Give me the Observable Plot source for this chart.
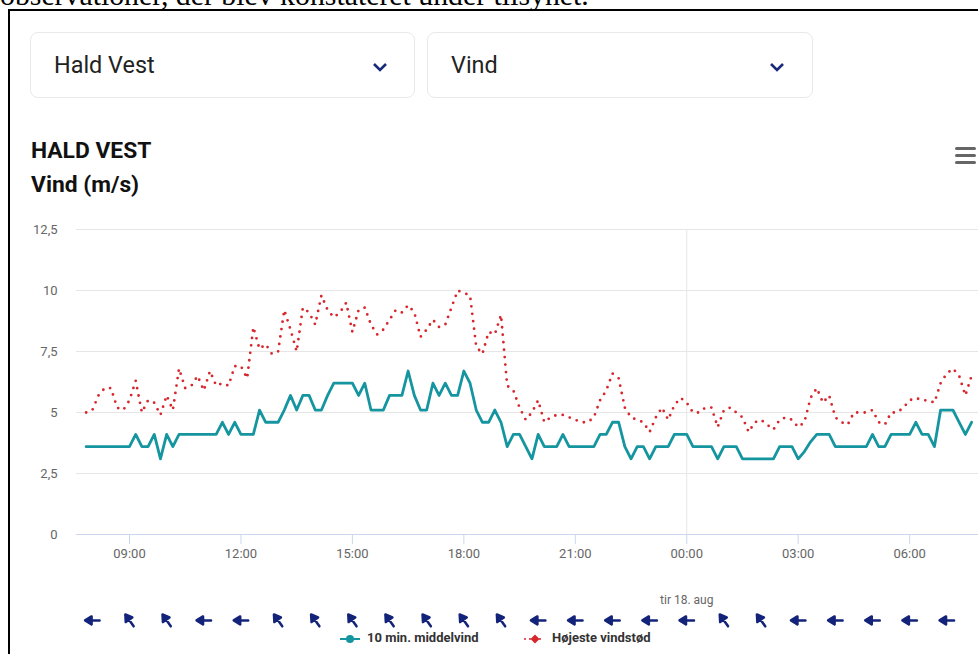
<!DOCTYPE html>
<html><head><meta charset="utf-8">
<script src="https://cdn.jsdelivr.net/npm/d3@7"></script>
<script src="https://cdn.jsdelivr.net/npm/@observablehq/plot@0.6"></script>
<style>
html,body{margin:0;padding:0;background:#fff;}
#page{position:relative;width:978px;height:654px;overflow:hidden;font-family:Roboto,sans-serif;background:#fff}
.intro{position:absolute;left:0px;top:-20px;font-family:"Liberation Serif",serif;font-size:29.8px;line-height:29px;color:#000;white-space:nowrap}
.frame{position:absolute;left:8px;top:9px;width:1000px;height:700px;border:2px solid #000;box-sizing:border-box}
.dd{position:absolute;top:32px;height:66px;border:1px solid #e9e9e9;border-radius:8px;box-sizing:border-box;background:#fff}
.dd span{position:absolute;left:23px;top:18px;font-size:23.4px;color:#222}
.dd svg{position:absolute;top:28px}
.title{position:absolute;left:31px;font-weight:700;font-size:22.8px;color:#111;line-height:1}
.burger{position:absolute;left:955px;width:21px;height:3px;border-radius:2px;background:#666}
#chart{position:absolute;left:0;top:200px}
.legend{position:absolute;top:630px;font-size:13px;font-weight:700;color:#333;white-space:nowrap;line-height:16px}
.legend svg{vertical-align:middle;margin-right:6px}
</style>
</head><body>
<div id="page">
  <div class="intro">observationer, der blev konstateret under tilsynet.</div>
  <div class="frame"></div>
  <div class="dd" style="left:30px;width:385px"><span>Hald Vest</span>
    <svg style="left:341px" width="16" height="12"><polyline points="2,3 8,9 14,3" fill="none" stroke="#1a2a7a" stroke-width="2.6"/></svg></div>
  <div class="dd" style="left:427px;width:386px"><span>Vind</span>
    <svg style="left:341px" width="16" height="12"><polyline points="2,3 8,9 14,3" fill="none" stroke="#1a2a7a" stroke-width="2.6"/></svg></div>
  <div class="title" style="top:140px">HALD VEST</div>
  <div class="title" style="top:174px">Vind (m/s)</div>
  <div class="burger" style="top:147px"></div>
  <div class="burger" style="top:154px"></div>
  <div class="burger" style="top:161px"></div>
  <div id="chart"></div>
  <div class="legend" style="left:339px"><svg width="22" height="12"><line x1="1" y1="6" x2="21" y2="6" stroke="#1595a0" stroke-width="2"/><circle cx="11" cy="6" r="4" fill="#1595a0"/></svg>10 min. middelvind</div>
  <div class="legend" style="left:524px"><svg width="22" height="12"><line x1="1" y1="6" x2="21" y2="6" stroke="#d7262c" stroke-width="2" stroke-dasharray="0,5" stroke-linecap="round"/><path d="M11,1.5 L15.5,6 L11,10.5 L6.5,6Z" fill="#d7262c"/></svg>Højeste vindstød</div>
</div>
<script>
// --- data ---
const seriesStart = "2020-08-17T07:50:00Z"; // first 10-min observation
const stepMinutes = 10;
const meanWind = [
  3.6,3.6,3.6,3.6,3.6,3.6,3.6,3.6,4.1,3.6,3.6,4.1,
  3.1,4.1,3.6,4.1,4.1,4.1,4.1,4.1,4.1,4.1,4.6,4.1,
  4.6,4.1,4.1,4.1,5.1,4.6,4.6,4.6,5.1,5.7,5.1,5.7,
  5.7,5.1,5.1,5.7,6.2,6.2,6.2,6.2,5.7,6.2,5.1,5.1,
  5.1,5.7,5.7,5.7,6.7,5.7,5.1,5.1,6.2,5.7,6.2,5.7,
  5.7,6.7,6.2,5.1,4.6,4.6,5.1,4.6,3.6,4.1,4.1,3.6,
  3.1,4.1,3.6,3.6,3.6,4.1,3.6,3.6,3.6,3.6,3.6,4.1,
  4.1,4.6,4.6,3.6,3.1,3.6,3.6,3.1,3.6,3.6,3.6,4.1,
  4.1,4.1,3.6,3.6,3.6,3.6,3.1,3.6,3.6,3.6,3.1,3.1,
  3.1,3.1,3.1,3.1,3.6,3.6,3.6,3.1,3.4,3.8,4.1,4.1,
  4.1,3.6,3.6,3.6,3.6,3.6,3.6,4.1,3.6,3.6,4.1,4.1,
  4.1,4.1,4.6,4.1,4.1,3.6,5.1,5.1,5.1,4.6,4.1,4.6
];
const gustWind = [
  5.0,5.1,5.7,6.0,6.0,5.2,5.1,5.5,6.3,5.0,5.5,5.4,
  4.9,5.7,5.1,6.8,6.0,6.1,6.5,5.9,6.7,6.1,6.2,6.1,
  6.9,6.9,6.4,8.5,7.6,7.8,7.4,7.5,9.2,8.4,7.5,9.3,
  9.1,8.6,9.8,9.2,8.9,9.1,9.5,8.3,9.2,9.3,8.6,8.2,
  8.4,8.8,9.2,9.1,9.4,9.1,8.1,8.4,8.8,8.5,8.6,9.3,
  10.0,9.9,9.8,7.7,7.4,8.3,8.2,9.0,6.1,5.9,5.2,4.7,
  5.0,5.5,4.6,4.8,4.9,4.9,4.8,4.7,4.6,4.6,4.8,5.5,
  5.9,6.6,6.4,5.2,4.8,4.7,4.6,4.2,4.8,5.2,4.7,5.3,
  5.6,5.4,5.0,5.0,5.2,5.2,4.4,5.1,5.2,5.0,4.8,4.2,
  4.6,4.7,4.5,4.3,4.7,4.8,4.7,4.4,4.6,5.6,6.0,5.4,
  5.7,4.8,4.6,4.5,5.0,5.0,5.0,5.1,4.6,4.5,5.0,5.0,
  5.2,5.5,5.6,5.5,5.5,5.4,6.2,6.6,6.8,6.5,5.7,6.5
];
// hourly wind direction (degrees the wind comes FROM), 08:00 .. 07:00
const dirStart = "2020-08-17T08:00:00Z";
const windFrom = [90,145,145,90,90,145,145,145,145,145,145,145,90,90,90,90,90,145,145,90,90,90,90,90];
const xTickLabels = ["09:00","12:00","15:00","18:00","21:00","00:00","03:00","06:00"];
const xTickTimes = ["2020-08-17T09:00Z","2020-08-17T12:00Z","2020-08-17T15:00Z","2020-08-17T18:00Z","2020-08-17T21:00Z","2020-08-18T00:00Z","2020-08-18T03:00Z","2020-08-18T06:00Z"];
const yTicks = [0,2.5,5,7.5,10,12.5];
const dayLabel = {time: "2020-08-18T00:00Z", text: "tir 18. aug"};
const seriesNames = ["10 min. middelvind","Højeste vindstød"];

// --- build tables ---
const t0 = new Date(seriesStart).getTime();
const rows = meanWind.map((m, i) => ({t: new Date(t0 + i*stepMinutes*60000), mean: m, gust: gustWind[i]}));
const d0 = new Date(dirStart).getTime();
const arrows = windFrom.map((d, i) => ({t: new Date(d0 + i*3600000), rot: (d + 180) % 360}));
const ticks = xTickTimes.map((s, i) => ({t: new Date(s), label: xTickLabels[i]}));
const xDomain = [new Date("2020-08-17T07:34:24Z"), new Date("2020-08-18T07:51:11Z")];
const fmtY = d => String(d).replace(".", ",");

// filled-head arrow shape
const filledArrow = {
  draw(context, l) {
    const head = 6.5, half = 4;
    context.moveTo(0, 0);
    context.lineTo(0, -l + head - 1);
    context.moveTo(0, -l);
    context.lineTo(-half, -l + head);
    context.lineTo(half, -l + head);
    context.closePath();
  }
};

function build(useCustom) {
  const arrowMark = useCustom
    ? Plot.vector(arrows, {x: "t", y: -3.52, rotate: "rot", length: 14.5, anchor: "middle", shape: filledArrow, stroke: "#14237a", fill: "#14237a", strokeWidth: 2.5})
    : Plot.vector(arrows, {x: "t", y: -3.52, rotate: "rot", length: 13, anchor: "middle", stroke: "#14237a", strokeWidth: 2.8});
  return Plot.plot({
    width: 978, height: 454,
    marginLeft: 76, marginRight: 0, marginTop: 29, marginBottom: 120,
    x: {type: "utc", domain: xDomain, axis: null},
    y: {domain: [0, 12.5], axis: null},
    style: {fontFamily: "Roboto, sans-serif", fontSize: "13px", background: "transparent", overflow: "visible"},
    marks: [
      Plot.ruleY(yTicks.filter(d => d > 0), {stroke: "#e6e6e6", strokeWidth: 1}),
      Plot.ruleX([new Date(dayLabel.time)], {stroke: "#e6e6e6", strokeWidth: 1}),
      Plot.ruleY([0], {stroke: "#ccd6eb", strokeWidth: 1}),
      Plot.ruleX(ticks, {x: "t", y1: 0, y2: -0.41, stroke: "#ccd6eb"}),
      Plot.text(yTicks, {x: xDomain[0], y: d => d, text: fmtY, textAnchor: "end", dx: -19, fill: "#666", fontSize: 13}),
      Plot.text(ticks, {x: "t", y: -0.78, text: "label", fill: "#666", fontSize: 13}),
      Plot.text([dayLabel], {x: d => new Date(d.time), y: -2.70, text: "text", fill: "#666", fontSize: 12}),
      Plot.line(rows, {x: "t", y: "gust", stroke: "#d7262c", strokeWidth: 2.8, strokeDasharray: "0,7.5", strokeLinecap: "round", strokeLinejoin: "round"}),
      Plot.line(rows, {x: "t", y: "mean", stroke: "#1595a0", strokeWidth: 2.8, strokeLinejoin: "round"}),
      arrowMark
    ]
  });
}
let chart;
try { chart = build(true); } catch (e) { chart = build(false); }
document.getElementById("chart").appendChild(chart);
</script>
</body></html>
